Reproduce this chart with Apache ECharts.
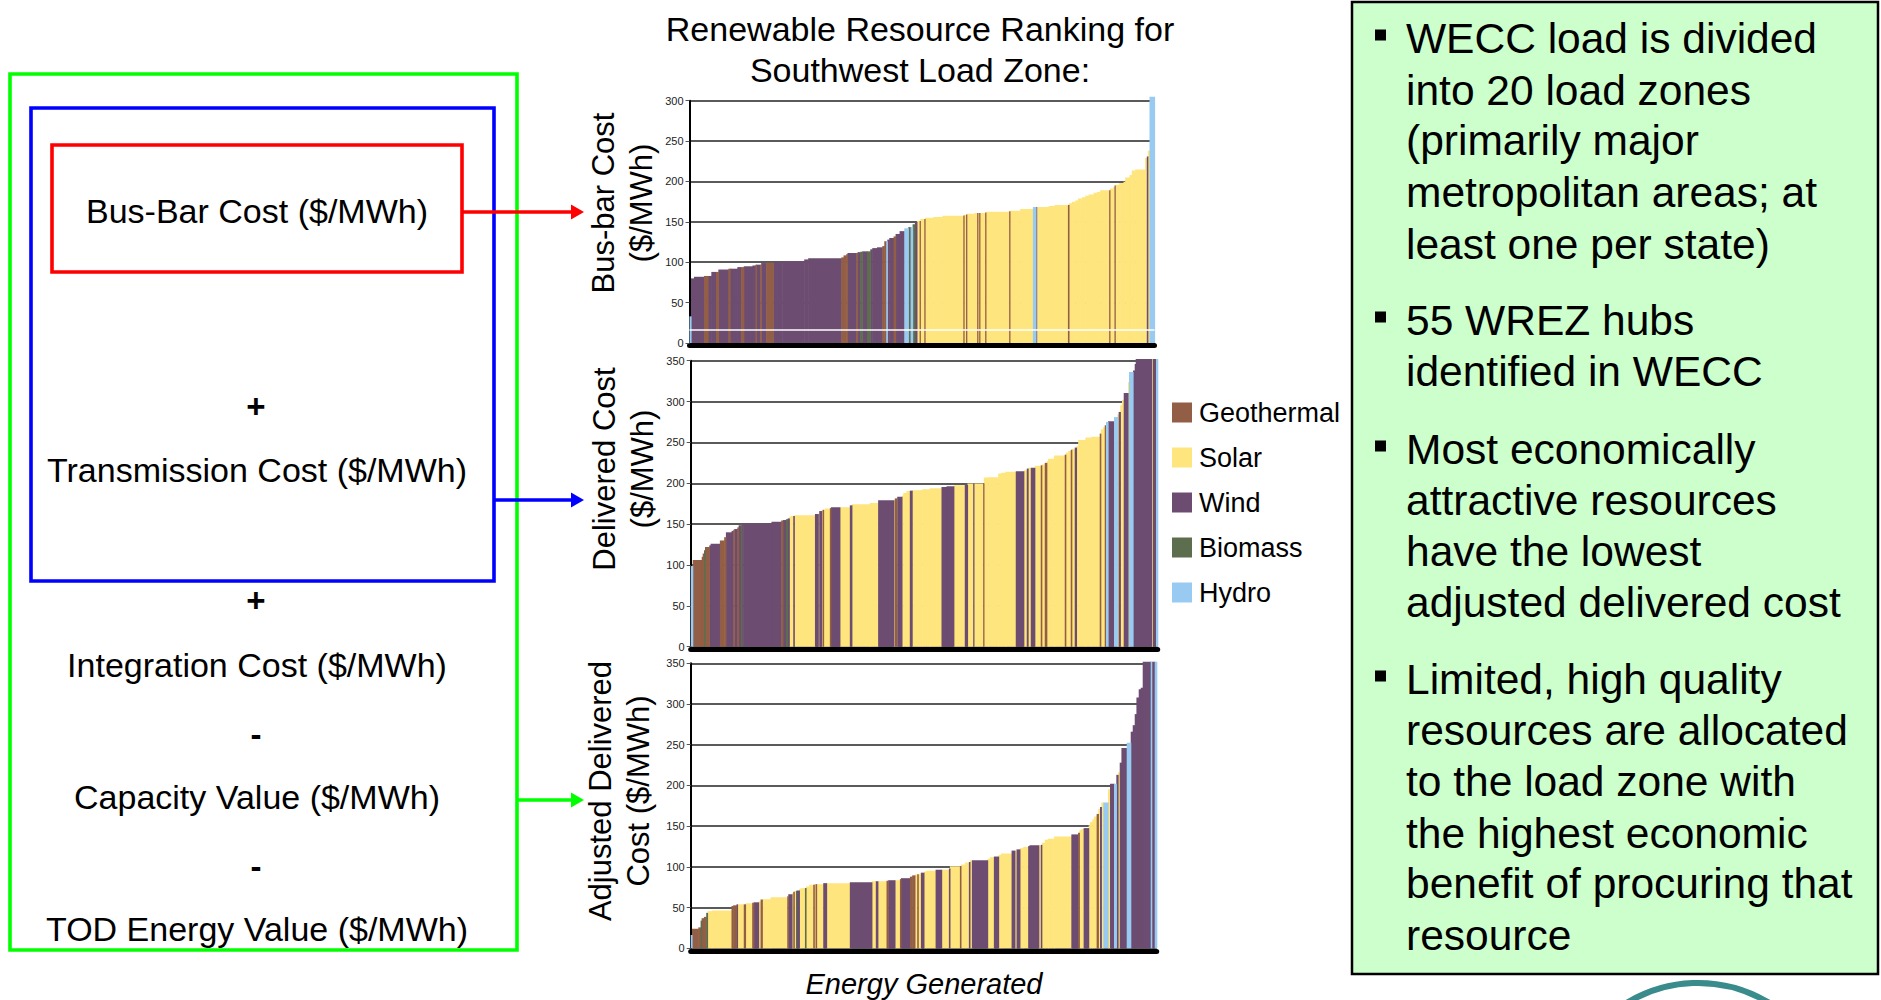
<!DOCTYPE html>
<html><head><meta charset="utf-8">
<script src="https://cdn.jsdelivr.net/npm/echarts@6/dist/echarts.min.js"></script>
<style>html,body{margin:0;padding:0;background:#fff}#c{width:1881px;height:1000px}</style>
</head><body><div id="c"></div>
<script>
// ---------------- DATA ----------------
const resourceTypes = ['Geothermal', 'Solar', 'Wind', 'Biomass', 'Hydro'];
const typeCode = { G: 'Geothermal', S: 'Solar', W: 'Wind', B: 'Biomass', H: 'Hydro' };

const busbarTicks = [0, 50, 100, 150, 200, 250, 300];
const deliveredTicks = [0, 50, 100, 150, 200, 250, 300, 350];
const adjustedTicks = [0, 50, 100, 150, 200, 250, 300, 350];

// [resource type, energy generated (relative), cost $/MWh] in ranking order
const busbarSegments = [
['H',1.5,33],['W',3,80],['W',10,82],['G',4,83],['W',3.3,83],['W',4.7,88],['G',2.3,88],['W',10,91],['G',1.7,92],['W',7.3,92],
['W',3.7,94],['G',2.7,94],['W',8.7,95],['W',3,96],['G',1,97],['W',3.7,97],['G',1,97],['W',5,99],['G',7,99.5],['W',9,100],
['W',22,101.5],['W',4,103.5],['W',33,105],['G',2.3,106],['G',2.7,108.5],['G',1.3,110],['W',8.7,111.5],['G',1.3,111.5],['W',2.7,112.5],['B',2,113],
['W',4.7,113.5],['B',3.3,113.5],['W',2,116],['W',4.7,117.5],['W',5.3,118.5],['G',2,120],['G',2,126],['H',1,126],['W',2,128],['W',4.3,130],
['G',2,132],['W',4,135],['W',4.7,138.5],['H',4,142],['B',2.3,143.5],['H',2,143.5],['B',2.3,147],['W',2,150],
['S',2.7,151.3],['G',0.7,151],['S',4,153.5],['G',0.7,153.5],['S',8.3,155],['S',9,156],['S',21,157.5],['G',0.7,158],['S',2,158.7],['G',0.7,159],
['S',7.7,160],['S',2.7,161],['G',0.7,161],['S',1.3,161],['G',0.7,161],['S',5.3,161],['G',0.7,161.5],['S',23.3,162.5],['G',0.7,163],['S',10.3,163.7],
['S',12.7,166],['H',3,168.5],['W',0.7,168.5],['S',12,168.5],['S',6,169.7],['S',13.3,171],['G',1,171],['S',3,173],['S',3.3,175],['S',2.7,176.5],
['S',4,179],['S',3.3,180.6],['S',3.3,182.3],['S',5,184],['S',3.3,186],['S',3.3,187],['S',9,189],['G',0.7,189],['S',3.3,191.3],['S',1.3,193],
['G',0.7,195],['S',4,196],['S',4.3,198],['S',1.7,199.6],['S',4.3,204.8],['S',2.3,208],['S',3.3,213.5],['S',10,214.7],['S',1.7,229],['W',1,231],
['S',1.7,238],['H',5,305]
];

const deliveredSegments = [
['H',2,98.7],['G',9,106],['G',1,110],['G',1.3,114],['B',1,118],['G',4.3,122],['W',1.3,124],['W',9.3,126],['G',4.3,130],['G',1.7,134],
['W',5.7,140],['W',1.7,141.7],['G',1,143],['W',3,144],['G',1.3,146],['W',2.3,148.6],['B',1,150],['W',1.3,151],['W',28.3,151],['W',9.7,152.8],
['G',1.7,154.4],['W',3,155],['B',1.7,156],['W',1.7,157],['S',1.3,159],['S',2.7,160],['W',1,160],['S',20.7,161],['W',3.3,162.3],['S',1,163],
['W',2.3,166],['S',1,167],['G',1,167.5],['S',1.3,168],['S',5,169.2],['G',1,169.5],['W',9,170.8],['S',10,170.8],['W',2,173],['S',18,174.4],
['S',8.3,176],['W',15.7,179.3],['S',1,180],['G',1.7,181.5],['S',0.7,182],['W',4.7,183.4],['S',1.3,185],['S',3.3,188],['S',3.3,190.4],['W',2.3,191],
['S',7.7,191.6],
['S',2.3,191.6],['S',7.7,192.8],['S',11.7,194],['W',5,195.3],['W',7.3,196.5],['S',11,197.7],['W',2.7,198],['S',5.7,199.7],['W',0.7,199.7],['S',9.3,199.7],
['G',0.7,200],['S',4.3,207],['S',10,207.4],['S',3.3,212],['S',4,213],['S',10.3,214],['W',8,214.8],['S',3,216],['W',1.3,218],['S',2.7,219],
['W',4,219],['S',6,221.3],['G',1,222],['S',3,222.9],['G',2,225],['S',1.3,227],['S',6,230],['S',10.7,234],['G',1,235],['S',2.3,237.5],
['S',2.7,239.5],['G',1,241],['S',3,242],['W',1.7,243.7],['S',1.7,245.4],['S',7.3,253],['S',6,256],['S',8.3,257],['G',1,260.8],['S',2.3,266],
['S',1.7,268.5],['G',1.3,271],['H',2,275],['W',6,275.9],['H',3.3,281],['S',1.3,284],['W',1.7,287.3],['S',1.7,295.5],['S',1.7,302],['W',4.3,310.6],
['S',1,324],['H',4,336.2],['W',1.7,338],['W',1,346],['W',15.7,352],['S',1.3,352],['W',3.3,352],['H',1.7,352]
];

const adjustedSegments = [
['H',1.3,16.3],['G',6.3,24],['G',2.3,25.7],['B',1,34],['G',2.3,37],['G',2.3,38.6],['B',1.3,43.5],['S',4.3,45.6],['S',19.7,46.4],['G',1.7,52],
['G',3.3,52.8],['W',1,54],['S',6.3,54],['G',1.7,54],['S',6.7,55.3],['G',1.7,56],['W',4.7,56.5],['S',2,57.5],['G',1.7,59.9],['S',8.3,60.3],
['S',16.7,62.7],['G',1,64],['W',3.7,66.4],['S',1.3,68],['G',1,69.5],['S',1.7,70.3],['B',0.7,70.5],['W',2.7,71],['S',1.3,73],['S',4.3,73.9],
['B',1,74],['S',3.3,76],['S',4,78],['G',1,78],['S',1.3,78.8],['G',1,78.8],['S',6.7,78.8],['W',3.3,80],['S',23.3,80],['W',22,81.2],
['S',4,82.4],['W',2,82.4],['S',8.7,82.4],['G',1.7,83],['W',6.7,83.6],['S',5,83.6],['G',1,85],['W',9,86.1],['G',2.3,88],['G',2.7,89.6],
['S',2.3,90.8],['G',1,90.8],['S',1.7,90.8],
['S',1,91.9],['W',3,92.9],['S',2,94.1],['S',9.7,95.3],['W',6,96.5],['S',7.3,96.5],['W',1,98],['S',10,100.7],['G',1,101],['S',4,102.8],
['S',4,105.3],['W',1,106],['S',2,108],['W',15.7,108],['S',2.3,110],['S',4,111.9],['W',4.7,112.7],['S',2.3,114.7],['S',10.7,116.4],['W',3.3,120],
['S',1.7,120],['W',3.3,121.5],['S',3.3,123],['S',5,124.3],['W',1.3,125.5],['W',9.3,126.4],['S',2,126.4],['W',1,127],['S',3,129.7],['S',3.3,133.4],
['S',6,134.6],['S',17.3,137.4],['W',6.7,139.9],['G',1.3,142],['S',2,145.2],['S',2.3,146.5],['W',5,147.6],['S',1.3,151],['S',2.3,155],['S',1.7,158.3],
['S',2.7,162],['G',1.7,165],['S',1.7,171.3],['W',1.3,173.4],['S',2,179],['H',4.7,179],['S',2,195.3],['W',4,202],['H',2.3,202],['W',1.7,213],
['S',1.7,216],['W',1.7,228],['W',5.3,246],['H',4,252.4],['W',2,266],['W',2,274],['W',1.7,287.6],['W',2.3,308],['W',2,318.2],['W',2,320],
['W',8,352],['H',1,352],['W',3,352],['H',2,352]
];

// ---------------- STYLE ----------------
const typeColors = { Geothermal: '#935E46', Solar: '#FFE57D', Wind: '#6C4C70', Biomass: '#5C6E4E', Hydro: '#98CAF2' };
const drawOrder = ['Solar', 'Wind', 'Geothermal', 'Biomass', 'Hydro'];
const FONT = '"Liberation Sans", Arial, Helvetica, sans-serif';

function renderSeg(params, api) {
  const x0 = api.value(0), x1 = api.value(1), v = api.value(2);
  const pTop = api.coord([x0, v]);
  const pEnd = api.coord([x1, 0]);
  return {
    type: 'rect',
    shape: { x: pTop[0], y: pTop[1], width: pEnd[0] - pTop[0] + 0.6, height: pEnd[1] - pTop[1] },
    style: { fill: api.visual('color') }
  };
}

function buildChart(segments, idx) {
  let acc = 0;
  const byType = {};
  segments.forEach(function (s) {
    const t = typeCode[s[0]];
    (byType[t] = byType[t] || []).push([acc, acc + s[1], s[2]]);
    acc += s[1];
  });
  const series = drawOrder.map(function (t) {
    return {
      type: 'custom', name: t, xAxisIndex: idx, yAxisIndex: idx,
      renderItem: renderSeg, encode: { x: [0, 1], y: 2 },
      itemStyle: { color: typeColors[t] },
      data: byType[t] || []
    };
  });
  return { total: acc, series: series };
}

const charts = [
  { seg: busbarSegments, ticks: busbarTicks, grid: { left: 689.5, top: 100.7, width: 465, height: 242.3 } },
  { seg: deliveredSegments, ticks: deliveredTicks, grid: { left: 690.7, top: 360.7, width: 467, height: 286 } },
  { seg: adjustedSegments, ticks: adjustedTicks, grid: { left: 690.7, top: 663.3, width: 466, height: 285 } }
];

const grids = [], xAxes = [], yAxes = [];
let allSeries = [];
charts.forEach(function (c, i) {
  const b = buildChart(c.seg, i);
  grids.push(Object.assign({ containLabel: false }, c.grid));
  xAxes.push({
    gridIndex: i, type: 'value', min: 0, max: b.total, offset: 2.5,
    axisLine: { show: true, onZero: false, lineStyle: { color: '#000', width: 5 } },
    axisTick: { show: false }, axisLabel: { show: false }, splitLine: { show: false }
  });
  yAxes.push({
    gridIndex: i, type: 'value', min: c.ticks[0], max: c.ticks[c.ticks.length - 1],
    interval: c.ticks[1] - c.ticks[0],
    axisLine: { show: true, lineStyle: { color: '#000', width: 2 } },
    axisTick: { show: true, length: 4, lineStyle: { color: '#555', width: 1 } },
    axisLabel: { fontSize: 11, color: '#222', margin: 6, fontFamily: FONT },
    splitLine: { show: true, lineStyle: { color: '#5a5a5a', width: 2 } }
  });
  allSeries = allSeries.concat(b.series);
});

// white reference line across the bus-bar chart
allSeries.push({
  type: 'line', name: 'ref', xAxisIndex: 0, yAxisIndex: 0, data: [], silent: true,
  markLine: { silent: true, symbol: 'none', label: { show: false },
    lineStyle: { color: '#fff', width: 1.5, type: 'solid' }, data: [{ yAxis: 16 }] }
});

// ---------------- GRAPHICS ----------------
function txt(x, y, text, size, opts) {
  opts = opts || {};
  return {
    type: 'text', x: x, y: y, rotation: opts.rotation || 0, z: 10,
    style: Object.assign({
      text: text, fill: '#000',
      font: (opts.style || 'normal') + ' ' + (opts.weight || 'normal') + ' ' + size + 'px ' + FONT,
      align: opts.align || 'center', verticalAlign: 'middle',
      textAlign: opts.align || 'center', textVerticalAlign: 'middle'
    }, opts.lineHeight ? { lineHeight: opts.lineHeight } : {})
  };
}
function arrow(x0, x1, y, color) {
  return [
    { type: 'line', shape: { x1: x0, y1: y, x2: x1 - 10, y2: y }, style: { stroke: color, lineWidth: 3.5 } },
    { type: 'polygon', shape: { points: [[x1 - 13, y - 7.5], [x1, y], [x1 - 13, y + 7.5]] }, style: { fill: color } }
  ];
}

const graphics = [];
// left diagram boxes
graphics.push({ type: 'rect', shape: { x: 10, y: 74, width: 507, height: 876 }, style: { fill: 'none', stroke: '#00FF00', lineWidth: 3.6 } });
graphics.push({ type: 'rect', shape: { x: 31, y: 108, width: 463, height: 473 }, style: { fill: 'none', stroke: '#0000FF', lineWidth: 3.6 } });
graphics.push({ type: 'rect', shape: { x: 52, y: 145, width: 410, height: 127 }, style: { fill: 'none', stroke: '#FF0000', lineWidth: 3.6 } });
graphics.push(txt(257, 211, 'Bus-Bar Cost ($/MWh)', 34));
graphics.push(txt(256, 406, '+', 33, { weight: 'bold' }));
graphics.push(txt(257, 470, 'Transmission Cost ($/MWh)', 34));
graphics.push(txt(256, 600, '+', 33, { weight: 'bold' }));
graphics.push(txt(257, 665, 'Integration Cost ($/MWh)', 34));
graphics.push(txt(256, 734, '-', 33, { weight: 'bold' }));
graphics.push(txt(257, 797, 'Capacity Value ($/MWh)', 34));
graphics.push(txt(256, 866, '-', 33, { weight: 'bold' }));
graphics.push(txt(257, 929, 'TOD Energy Value ($/MWh)', 34));
arrow(462, 584, 212, '#FF0000').forEach(function (g) { graphics.push(g); });
arrow(494, 584, 500, '#0000FF').forEach(function (g) { graphics.push(g); });
arrow(517, 584, 800, '#00FF00').forEach(function (g) { graphics.push(g); });

// title
graphics.push(txt(920, 29, 'Renewable Resource Ranking for', 34));
graphics.push(txt(920, 70, 'Southwest Load Zone:', 34));
// axis names
graphics.push(txt(622, 203, 'Bus-bar Cost\n($/MWh)', 31, { rotation: Math.PI / 2, lineHeight: 38 }));
graphics.push(txt(623, 469, 'Delivered Cost\n($/MWh)', 31, { rotation: Math.PI / 2, lineHeight: 38 }));
graphics.push(txt(619, 791, 'Adjusted Delivered\nCost ($/MWh)', 31, { rotation: Math.PI / 2, lineHeight: 38 }));
graphics.push(txt(924, 984, 'Energy Generated', 29, { style: 'italic' }));

// right note box
graphics.push({ type: 'rect', shape: { x: 1352, y: 2, width: 526, height: 972 }, style: { fill: '#CCFFCC', stroke: '#000', lineWidth: 2.5 } });
const noteLines = [
  ['WECC load is divided', 38, true], ['into 20 load zones', 90], ['(primarily major', 140], ['metropolitan areas; at', 192], ['least one per state)', 244],
  ['55 WREZ hubs', 320, true], ['identified in WECC', 371],
  ['Most economically', 449, true], ['attractive resources', 500], ['have the lowest', 551], ['adjusted delivered cost', 602],
  ['Limited, high quality', 679, true], ['resources are allocated', 730], ['to the load zone with', 781], ['the highest economic', 833],
  ['benefit of procuring that', 883], ['resource', 935]
];
noteLines.forEach(function (l) {
  graphics.push(txt(1406, l[1], l[0], 42.5, { align: 'left' }));
  if (l[2]) graphics.push({ type: 'rect', z: 10, shape: { x: 1375, y: l[1] - 8.5, width: 11, height: 11 }, style: { fill: '#000' } });
});
// logo fragment
graphics.push({ type: 'circle', shape: { cx: 1698, cy: 1120, r: 137 }, style: { fill: 'none', stroke: '#3A8C8C', lineWidth: 6 } });

const option = {
  backgroundColor: '#fff',
  animation: false,
  grid: grids, xAxis: xAxes, yAxis: yAxes,
  legend: {
    data: resourceTypes, orient: 'vertical', left: 1172, top: 399, padding: 0,
    itemWidth: 20, itemHeight: 20, itemGap: 18, icon: 'rect',
    textStyle: { fontSize: 27, color: '#000', fontFamily: FONT, lineHeight: 20, padding: [0, 0, 0, 2] }
  },
  graphic: graphics,
  series: allSeries
};

const chart = echarts.init(document.getElementById('c'), null, { renderer: 'svg', width: 1881, height: 1000 });
chart.setOption(option);
</script>
</body></html>
